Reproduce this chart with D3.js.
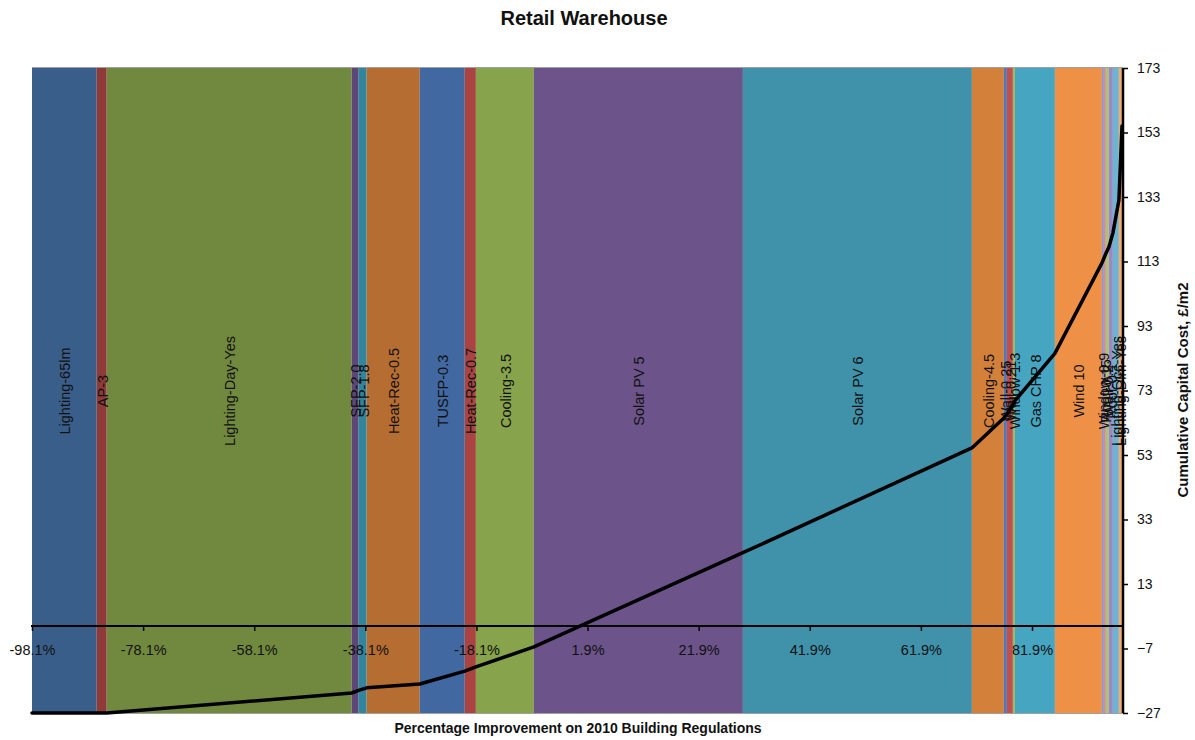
<!DOCTYPE html>
<html><head><meta charset="utf-8">
<script src="https://cdn.jsdelivr.net/npm/d3@7/dist/d3.min.js"></script>
<style>html,body{margin:0;padding:0;background:#fff;}svg{display:block;font-family:"Liberation Sans",Arial,sans-serif;}</style>
</head><body><svg id="c" width="1195" height="740"></svg>
<script>
// Measures (in order), cumulative % improvement at the end of each, and colours
const measures = ["Lighting-65lm","AP-3","Lighting-Day-Yes","SFP-2.0","SFP-1.8","Heat-Rec-0.5","TUSFP-0.3","Heat-Rec-0.7","Cooling-3.5","Solar PV 5","Solar PV 6","Cooling-4.5","Wall-0.25","Wall-0.21","Window-1.3","Gas CHP 8","Wind 10","Window-0.9","Roof-0.15","Wall-0.2","Roof-0.1","Lighting-Occ-Yes","Lighting-Dim-Yes"];
const startImprovement = -98.1;
const endImprovement = [-86.45,-84.65,-40.56,-39.3,-37.86,-28.3,-20.2,-18.2,-7.76,29.86,71.08,76.84,77.38,78.46,78.82,86.02,94.48,94.84,95.2,95.74,96.46,97.54,98.1];
const bandColors = ["#3A5E8A","#8E3A38","#71893F","#5C4776","#31859C","#B66D31","#4168A0","#A94442","#87A34B","#6C538A","#4091AA","#D3803A","#4F78BA","#BF504D","#9BBB59","#46A5C1","#EE9146","#8E95CC","#D08E8E","#A9C47A","#9C88C2","#6BB4D2","#F6A96C"];
// Cumulative capital cost (£/m2) at start and at the end of each measure
const cumulativeCost = [-27,-27,-27,-20.8,-20.0,-19.2,-18.0,-14.0,-12.7,-6.5,22.7,55.2,64.5,65.7,68.5,69.8,84.5,112.5,114,115.5,117.5,121.8,132,155];
const xTicks = [-98.1,-78.1,-58.1,-38.1,-18.1,1.9,21.9,41.9,61.9,81.9];
const yTicks = [173,153,133,113,93,73,53,33,13,-7,-27];

const svg = d3.select("#c");
const L = 32, R = 1122, T = 68, B = 713;
const x = d3.scaleLinear().domain([-98.1, 98.1]).range([L, R]);
const y = d3.scaleLinear().domain([-27, 173]).range([B, T]);

const bands = measures.map((m, i) => ({
  name: m,
  x0: i === 0 ? startImprovement : endImprovement[i - 1],
  x1: endImprovement[i],
  color: bandColors[i]
}));

svg.append("g").selectAll("rect").data(bands).join("rect")
  .attr("x", d => x(d.x0)).attr("width", d => Math.max(0, x(d.x1) - x(d.x0)))
  .attr("y", y(173)).attr("height", y(-27) - y(173))
  .attr("fill", d => d.color);

// plot border top/bottom
svg.append("line").attr("x1", L).attr("x2", R + 1).attr("y1", T - 0.5).attr("y2", T - 0.5).attr("stroke", "#a0a0a0");
svg.append("line").attr("x1", L).attr("x2", R + 1).attr("y1", B + 0.5).attr("y2", B + 0.5).attr("stroke", "#a0a0a0");

// band labels
svg.append("g").selectAll("text").data(bands).join("text")
  .attr("transform", d => `translate(${(x(d.x0) + x(d.x1)) / 2 + 1},391) rotate(-90)`)
  .attr("text-anchor", "middle").attr("dominant-baseline", "central")
  .attr("font-size", "14.5px").attr("fill", "#111")
  .text(d => d.name);

// bottom axis at zero
const xAxis = d3.axisBottom(x).tickValues(xTicks).tickSize(5).tickFormat(d => d.toFixed(1) + "%");
const gx = svg.append("g").attr("transform", `translate(0,${y(0)})`).call(xAxis);
gx.select(".domain").attr("stroke", "#000").attr("stroke-width", 2).attr("d", `M${L - 1},0H${R}`);
gx.selectAll(".tick line").attr("stroke", "#000").attr("stroke-width", 1.5);
gx.selectAll(".tick text").attr("font-size", "14.5px").attr("fill", "#111").attr("y", 15).attr("dy", "1em").attr("font-family", "Liberation Sans, Arial, sans-serif");

// right axis
const yAxis = d3.axisRight(y).tickValues(yTicks).tickSize(5).tickFormat(d3.format("d"));
const gy = svg.append("g").attr("transform", `translate(${R + 1},0)`).call(yAxis);
gy.select(".domain").attr("stroke", "#000").attr("stroke-width", 2.5).attr("d", `M0,${T}V${B}`);
gy.selectAll(".tick line").attr("stroke", "#000").attr("stroke-width", 1.5);
gy.selectAll(".tick text").attr("font-size", "14px").attr("fill", "#111").attr("x", 14).attr("font-family", "Liberation Sans, Arial, sans-serif");

// cumulative cost line
const pts = cumulativeCost.map((c, i) => [i === 0 ? startImprovement : endImprovement[i - 1], c]);
svg.append("path").datum(pts)
  .attr("fill", "none").attr("stroke", "#000").attr("stroke-width", 3.5).attr("stroke-linejoin", "round").attr("stroke-linecap", "round")
  .attr("d", d3.line().x(d => x(d[0])).y(d => y(d[1])));

// titles
svg.append("text").attr("x", 584).attr("y", 18).attr("text-anchor", "middle").attr("dominant-baseline", "central")
  .attr("font-size", "20px").attr("font-weight", "bold").attr("fill", "#111").text("Retail Warehouse");
svg.append("text").attr("x", 578).attr("y", 728).attr("text-anchor", "middle").attr("dominant-baseline", "central")
  .attr("font-size", "14px").attr("font-weight", "bold").attr("fill", "#111").text("Percentage Improvement on 2010 Building  Regulations");
svg.append("text").attr("transform", "translate(1182,390) rotate(-90)").attr("text-anchor", "middle").attr("dominant-baseline", "central")
  .attr("font-size", "15px").attr("font-weight", "bold").attr("fill", "#111").text("Cumulative Capital Cost, £/m2");
</script></body></html>
